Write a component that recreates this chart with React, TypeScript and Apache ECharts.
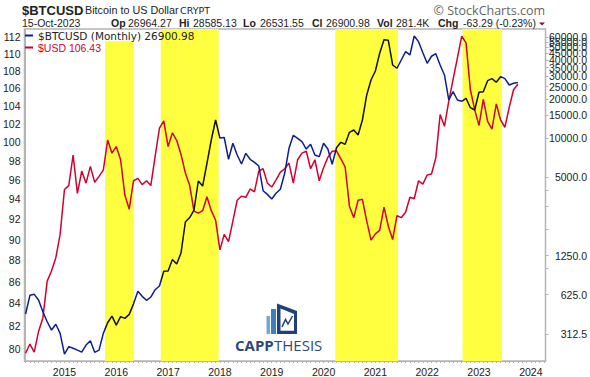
import React, { useEffect, useRef } from "react";
import * as echarts from "echarts";

const BTC_NAME = "$BTCUSD (Monthly) 26900.98";
const USD_NAME = "$USD 106.43";

// Monthly closes, Apr 2014 .. Oct 2023
const BTC = [
  444, 618, 629, 569, 462, 387, 334, 370, 315, 218, 249, 242, 234, 226, 256, 276, 225, 234, 315, 380,
  428, 365, 424, 411, 441, 533, 664, 607, 566, 600, 683, 729, 948, 953, 1166, 1077, 1313, 2267, 2456, 2805,
  4690, 4290, 6420, 9700, 13830, 10050, 10140, 6890, 9150, 7440, 6340, 7660, 6890, 6530, 6120, 3950, 3700, 3410, 3770, 4050,
  5380, 8380, 10540, 10000, 9420, 8270, 8990, 7440, 7220, 9150, 8270, 6310, 8460, 9310, 8990, 11120, 11580, 10600, 13830, 21550,
  28100, 32980, 45130, 57440, 56840, 36680, 34600, 40080, 46430, 43800, 61340, 55440, 45620, 37800, 42800, 44800, 36680, 30720, 19720, 22850,
  19720, 19270, 20320, 17200, 16520, 22610, 22850, 27760, 28770, 26990, 29800, 28770, 25730, 26510, 26900.98,
];
const USD = [
  79.6, 80.4, 79.7, 81.5, 82.7, 86.05, 87.0, 88.25, 90.5, 95.0, 95.4, 98.6, 94.6, 96.9, 95.65, 97.4, 95.75, 96.35, 97.0, 100.2,
  98.8, 99.5, 98.1, 94.4, 93.0, 95.9, 96.15, 95.5, 95.9, 95.4, 98.45, 101.5, 102.3, 99.5, 101.0, 100.15, 98.65, 96.7, 95.4, 92.8,
  92.6, 92.85, 94.25, 92.85, 91.9, 89.0, 90.5, 89.8, 91.8, 93.9, 94.3, 94.2, 95.05, 94.75, 96.9, 97.15, 95.65, 95.25, 96.0, 96.8,
  97.15, 97.75, 95.65, 98.1, 98.8, 99.0, 97.15, 98.1, 95.9, 97.25, 98.35, 99.0, 99.05, 98.2, 97.35, 93.3, 92.15, 93.9, 94.0, 91.8,
  89.95, 90.55, 90.9, 93.2, 91.3, 90.0, 92.35, 92.15, 92.7, 94.2, 94.05, 95.9, 95.55, 96.5, 96.6, 98.3, 103.0, 101.7, 104.5, 107.0,
  109.5, 112.1, 111.3, 105.8, 103.55, 101.8, 104.7, 102.25, 101.4, 104.2, 102.4, 101.6, 103.8, 105.8, 106.43,
];

const YEARS = ["2015", "2016", "2017", "2018", "2019", "2020", "2021", "2022", "2023", "2024"];
const YEAR_MONTH_INDEX = [9, 21, 33, 45, 57, 69, 81, 93, 105, 117];
const MONTH_TICKS = Array.from({ length: 121 }, (_, i) => i);
const LEFT_TICKS = [80, 82, 84, 86, 88, 90, 92, 94, 96, 98, 100, 102, 104, 106, 108, 110, 112];
const RIGHT_LABELS = [312.5, 625, 1250, 5000, 10000, 15000, 20000, 25000, 30000, 35000, 40000, 45000, 50000, 55000, 60000, 65000];
const RIGHT_TICKS = [312.5, 625, 1000, 1250, 2000, 3000, 4000, 5000, 10000, 15000, 20000, 25000, 30000, 35000, 40000, 45000, 50000, 55000, 60000, 65000];

// [start month index, end month index, top on the left axis]
const BANDS = [
  [18.4, 25.05, 111.5],
  [31.3, 44.7, 113.2],
  [71.7, 86.2, 112.97],
  [101.2, 110.3, 112.97],
];

const HEADER: [string, number, number, boolean][] = [
  ["15-Oct-2023", 22, 23, false],
  ["Op", 111, 23, true],
  ["26964.27", 128, 23, false],
  ["Hi", 179, 23, true],
  ["28585.13", 193, 23, false],
  ["Lo", 243, 23, true],
  ["26531.55", 260, 23, false],
  ["Cl", 312, 23, true],
  ["26900.98", 326, 23, false],
  ["Vol", 377, 23, true],
  ["281.4K", 396, 23, false],
  ["Chg", 438, 23, true],
  ["-63.29 (-0.23%)", 463, 23, false],
];

const SANS = "'Liberation Sans', Arial, sans-serif";
const NAVY = "#0b1f8f";
const RED = "#d4002f";

export default function App() {
  const ref = useRef<HTMLDivElement>(null);
  useEffect(() => {
    const chart = echarts.init(ref.current!, undefined, { renderer: "svg" });
    const t = (text: string, x: number, y: number, font: string, fill = "#222", extra: any = {}) => ({
      type: "text",
      x,
      y,
      z: 20,
      style: { text, font, fill, textVerticalAlign: "middle", ...extra },
    });
    chart.setOption({
      animation: false,
      backgroundColor: "#fff",
      grid: { left: 22, right: 44.5, top: 29, bottom: 16, show: true, borderColor: "#b4b4b4", borderWidth: 1.5 },
      legend: {
        show: true,
        left: 21,
        top: 30,
        orient: "vertical",
        itemGap: 1,
        itemWidth: 8,
        itemHeight: 2,
        icon: "rect",
        padding: [0, 0, 0, 4],
        data: [
          { name: BTC_NAME, itemStyle: { color: NAVY }, textStyle: { color: "#222", fontFamily: "DejaVu Sans", fontSize: 10.5, lineHeight: 10 } },
          { name: USD_NAME, itemStyle: { color: RED }, textStyle: { color: RED, fontFamily: SANS, fontSize: 10.5, lineHeight: 10 } },
        ],
      },
      xAxis: {
        type: "value",
        min: -0.25,
        max: 120.4,
        splitLine: { show: false },
        axisLine: { lineStyle: { color: "#b4b4b4" } },
        axisTick: { customValues: MONTH_TICKS, length: 2, lineStyle: { color: "#b4b4b4" } },
        axisLabel: {
          customValues: YEAR_MONTH_INDEX,
          formatter: (v: number) => YEARS[YEAR_MONTH_INDEX.indexOf(v)] ?? "",
          fontFamily: SANS,
          fontSize: 10.5,
          color: "#222",
          margin: 5,
        },
      },
      yAxis: [
        {
          type: "log",
          min: 78.94,
          max: 112.97,
          position: "left",
          splitLine: { show: false },
          axisLine: { show: true, lineStyle: { color: "#b4b4b4" } },
          axisTick: { show: true, customValues: LEFT_TICKS, length: 2, lineStyle: { color: "#b4b4b4" } },
          axisLabel: { customValues: LEFT_TICKS, formatter: (v: number) => String(Math.round(v)), fontFamily: SANS, fontSize: 10.5, color: "#222", margin: 4 },
        },
        {
          type: "log",
          min: 193,
          max: 69400,
          position: "right",
          splitLine: { show: false },
          axisLine: { show: true, lineStyle: { color: "#b4b4b4" } },
          axisTick: { show: true, customValues: RIGHT_TICKS, length: 3, lineStyle: { color: "#b4b4b4" } },
          axisLabel: {
            customValues: RIGHT_LABELS,
            formatter: (v: number) => v.toFixed(1),
            fontFamily: SANS,
            fontSize: 10.5,
            color: "#222",
            align: "right",
            margin: 41.5,
          },
        },
      ],
      visualMap: {
        show: false,
        type: "piecewise",
        seriesIndex: 0,
        dimension: 0,
        pieces: [
          ...BANDS.map((b) => ({ gte: b[0], lte: b[1], color: "#111" })),
          { lt: BANDS[0][0], color: NAVY },
          { gt: BANDS[0][1], lt: BANDS[1][0], color: NAVY },
          { gt: BANDS[1][1], lt: BANDS[2][0], color: NAVY },
          { gt: BANDS[2][1], lt: BANDS[3][0], color: NAVY },
          { gt: BANDS[3][1], color: NAVY },
        ],
      },
      series: [
        {
          name: BTC_NAME,
          type: "line",
          yAxisIndex: 1,
          data: BTC.map((v, i) => [i, v]),
          showSymbol: false,
          z: 4,
          itemStyle: { color: NAVY },
          lineStyle: { width: 1.5 },
        },
        {
          name: USD_NAME,
          type: "line",
          yAxisIndex: 0,
          data: USD.map((v, i) => [i, v]),
          showSymbol: false,
          clip: false,
          z: 3,
          itemStyle: { color: RED },
          lineStyle: { color: RED, width: 1.5 },
          markArea: {
            silent: true,
            z: 1,
            itemStyle: { color: "#ffff40", opacity: 1 },
            data: BANDS.map((b) => [{ xAxis: b[0], yAxis: b[2] }, { xAxis: b[1], yAxis: 78.94 }]),
          },
        },
      ],
      graphic: {
        elements: [
          t("$BTCUSD", 22, 10, `bold 13px ${SANS}`),
          t("Bitcoin to US Dollar", 85, 10, `10.8px ${SANS}`),
          t("CRYPT", 180, 10.5, "9.5px 'DejaVu Sans'"),
          t("© StockCharts.com", 545, 10.5, `12.5px 'Open Sans'`, "#666", { textAlign: "right" }),
          ...HEADER.map(([s, x, y, b]) => t(s, x, y, `${b ? "bold " : ""}10.5px ${SANS}`)),
          { type: "polygon", z: 20, shape: { points: [[539, 22.5], [545, 22.5], [542, 25.5]] }, style: { fill: "#8c0a3c" } },
          { type: "rect", z: 20, shape: { x: 266.5, y: 316, width: 3.5, height: 18 }, style: { fill: "#6fa8dc" } },
          { type: "rect", z: 20, shape: { x: 271, y: 309, width: 5, height: 25 }, style: { fill: "#3f7fbf" } },
          { type: "polygon", z: 20, shape: { points: [[277, 303.5], [297, 311], [297, 334], [277, 334]] }, style: { fill: "#20407c" } },
          { type: "polygon", z: 21, shape: { points: [[280.5, 308.5], [294, 314], [294, 330.7], [280.5, 330.7]] }, style: { fill: "#fff" } },
          { type: "polyline", z: 22, shape: { points: [[282, 327], [285.5, 319.5], [288, 324], [292.5, 316]] }, style: { stroke: "#20407c", lineWidth: 1.5, fill: "none" } },
          t("CAPP", 235, 345, `bold 15px 'Open Sans'`, "#2b4a7c"),
          t("THESIS", 274, 345, `15px 'Open Sans'`, "#2b4a7c"),
        ],
      },
    });
    return () => chart.dispose();
  }, []);
  return <div ref={ref} style={{ position: "absolute", left: 0, top: 0, width: 590, height: 377 }} />;
}
